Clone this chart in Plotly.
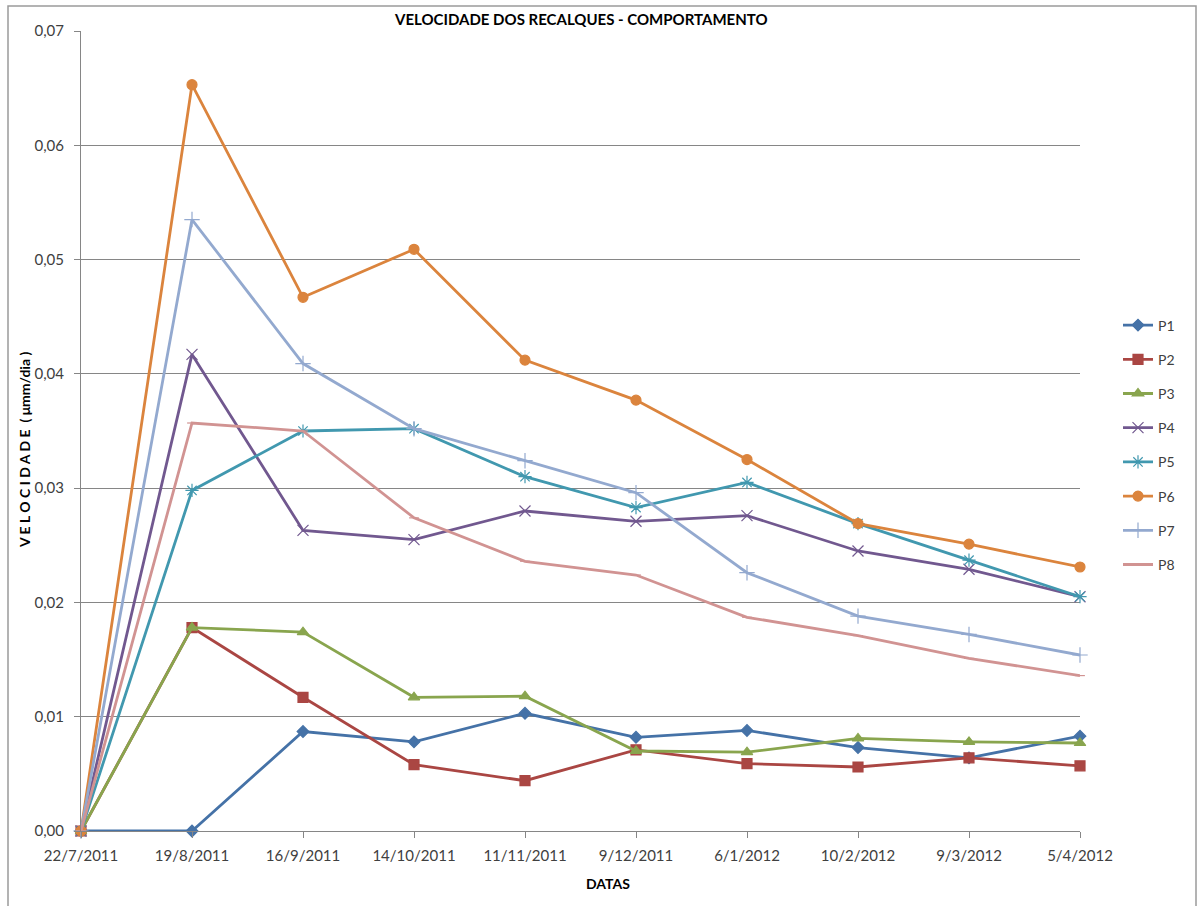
import plotly.graph_objects as go

datas = ["22/7/2011", "19/8/2011", "16/9/2011", "14/10/2011", "11/11/2011",
         "9/12/2011", "6/1/2012", "10/2/2012", "9/3/2012", "5/4/2012"]

P1 = [0.0, 0.0, 0.0087, 0.0078, 0.0103, 0.0082, 0.0088, 0.0073, 0.0064, 0.0083]
P2 = [0.0, 0.0178, 0.0117, 0.0058, 0.0044, 0.0071, 0.0059, 0.0056, 0.0064, 0.0057]
P3 = [0.0, 0.0178, 0.0174, 0.0117, 0.0118, 0.0070, 0.0069, 0.0081, 0.0078, 0.0077]
P4 = [0.0, 0.0417, 0.0263, 0.0255, 0.0280, 0.0271, 0.0276, 0.0245, 0.0229, 0.0205]
P5 = [0.0, 0.0298, 0.0350, 0.0352, 0.0310, 0.0283, 0.0305, 0.0269, 0.0237, 0.0205]
P6 = [0.0, 0.0653, 0.0467, 0.0509, 0.0412, 0.0377, 0.0325, 0.0269, 0.0251, 0.0231]
P7 = [0.0, 0.0535, 0.0409, 0.0352, 0.0324, 0.0296, 0.0226, 0.0188, 0.0172, 0.0154]
P8 = [0.0, 0.0357, 0.0350, 0.0274, 0.0236, 0.0224, 0.0187, 0.0171, 0.0151, 0.0136]

names = ["P1", "P2", "P3", "P4", "P5", "P6", "P7", "P8"]
series = [P1, P2, P3, P4, P5, P6, P7, P8]
colors = ["#4572A7", "#AA4643", "#89A54E", "#71588F", "#4198AF", "#DB843D", "#93A9CF", "#D19392"]
symbols = ["diamond", "square", "triangle-up", "x-thin-open", "asterisk-open",
           "circle", "cross-thin-open", "line-ew-open"]
sizes = [9, 10, 10, 11, 11, 10, 11, 7]

fig = go.Figure()
for n, s, c, sym, sz in zip(names, series, colors, symbols, sizes):
    fig.add_trace(go.Scatter(
        x=datas, y=s, name=n, mode="lines+markers",
        line=dict(color=c, width=2.8),
        marker=dict(symbol=sym, size=sz, color=c, line=dict(color=c, width=1.2)),
        cliponaxis=False, legendgroup=n,
    ))

L, R, T, B = 81, 118, 31, 75
W, H = 1198, 906
pw, ph = W - L - R, H - T - B

def px_x(p):
    return (p - L) / pw

def px_y(p):
    return (H - B - p) / ph

fig.update_layout(
    width=W, height=H,
    margin=dict(l=L, r=R, t=T, b=B, pad=0),
    paper_bgcolor="white", plot_bgcolor="white",
    separators=",.",
    font=dict(family="Lato, Calibri, Arial", size=15, color="#404040"),
    showlegend=True,
    legend=dict(x=px_x(1118), y=px_y(445), xanchor="left", yanchor="middle",
                font=dict(size=14, color="#404040"), tracegroupgap=13,
                itemwidth=30, bgcolor="rgba(0,0,0,0)"),
    xaxis=dict(type="category", range=[0, 9], showgrid=False,
               showline=True, linecolor="#868686", linewidth=1,
               ticks="outside", ticklen=6, tickcolor="#868686",
               ticklabelstandoff=5,
               tickfont=dict(size=15, color="#404040")),
    yaxis=dict(range=[0, 0.07], dtick=0.01, tickformat=".2f",
               showgrid=True, gridcolor="#868686", gridwidth=1,
               showline=True, linecolor="#868686", linewidth=1,
               ticks="outside", ticklen=6, tickcolor="#868686",
               ticklabelstandoff=7,
               tickfont=dict(size=15, color="#404040"), zeroline=False),
    shapes=[dict(type="rect", xref="paper", yref="paper",
                 x0=px_x(8), x1=px_x(1196), y0=px_y(920), y1=px_y(6),
                 line=dict(color="#9A9A9A", width=1.5), fillcolor="rgba(0,0,0,0)", layer="below")],
    annotations=[
        dict(text="<b>VELOCIDADE DOS RECALQUES - COMPORTAMENTO</b>", xref="paper", yref="paper",
             x=px_x(581), y=px_y(19), xanchor="center", yanchor="middle", showarrow=False,
             font=dict(size=15, color="#000000")),
        dict(text="<b>DATAS</b>", xref="paper", yref="paper",
             x=px_x(608), y=px_y(884), xanchor="center", yanchor="middle", showarrow=False,
             font=dict(size=14, color="#000000")),
        dict(text="<b>V E L O C I D A D E  ( μmm/dia )</b>", xref="paper", yref="paper",
             x=px_x(25), y=px_y(450), xanchor="center", yanchor="middle", showarrow=False,
             textangle=-90, font=dict(size=14, color="#000000")),
    ],
)

fig.write_html("out.html")
